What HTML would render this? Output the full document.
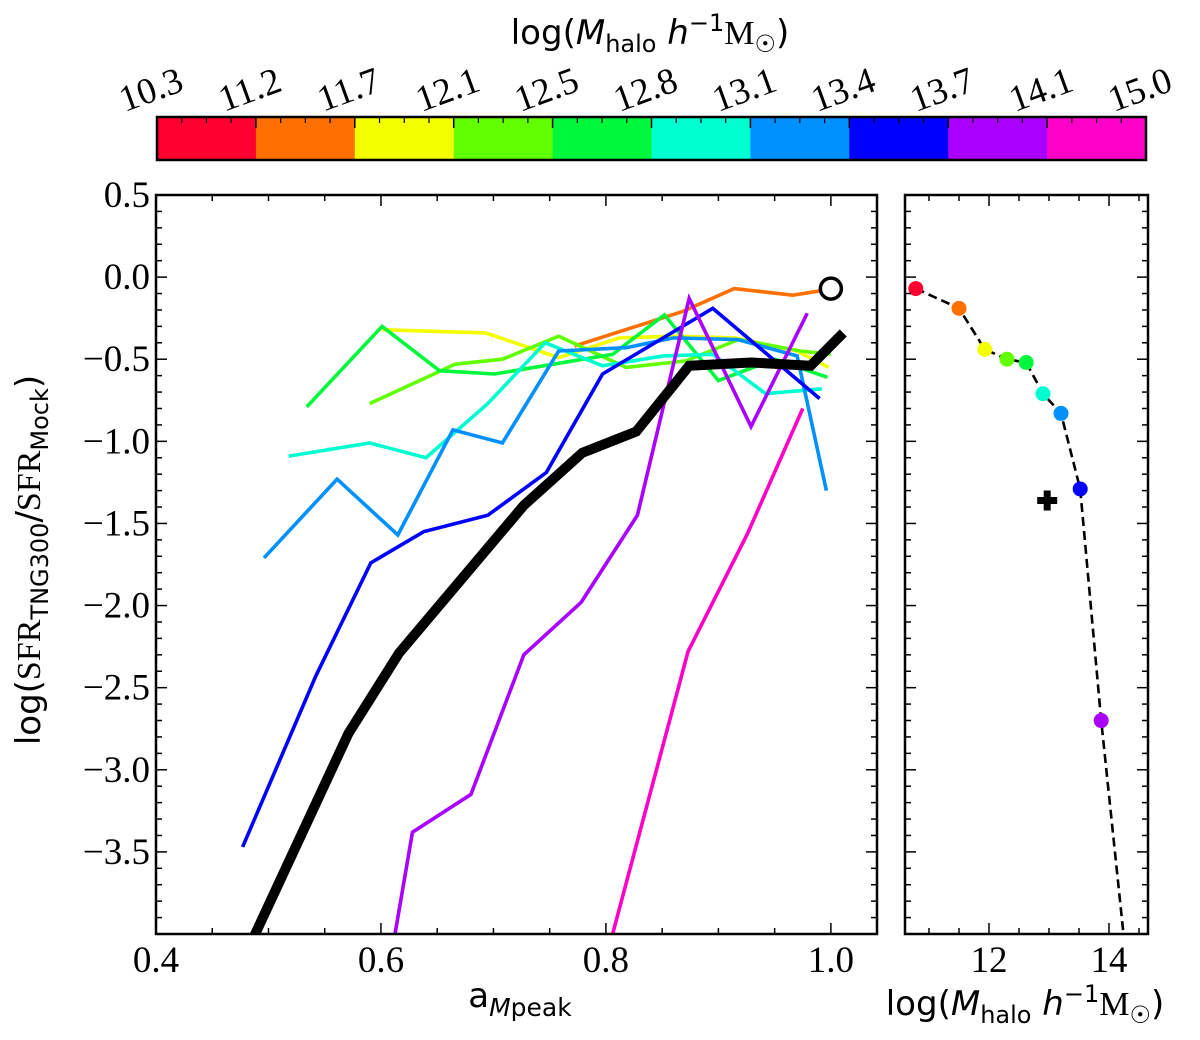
<!DOCTYPE html>
<html><head><meta charset="utf-8"><style>
html,body{margin:0;padding:0;background:#fff;}
svg text{font-family:"Liberation Serif",serif;}
.sans{font-family:"DejaVu Sans","Liberation Sans",sans-serif;}
</style></head><body>
<svg id="chart" width="1200" height="1035" viewBox="0 0 1200 1035" xmlns="http://www.w3.org/2000/svg">
<defs>
<clipPath id="clipMain"><rect x="156" y="195" width="721" height="739"/></clipPath>
<clipPath id="clipRight"><rect x="905" y="195" width="243" height="739"/></clipPath>
</defs>
<g id="colorbar"></g>
<g id="main"></g>
<g id="right"></g>
<text class="sans" x="650" y="44" font-size="34" text-anchor="middle">log(<tspan font-style="italic">M</tspan><tspan font-size="24" dy="8">halo</tspan><tspan dy="-8"> </tspan><tspan font-style="italic">h</tspan><tspan font-size="24" dy="-13">−1</tspan><tspan dy="13" font-family="Liberation Serif">M</tspan><tspan font-size="24" dy="8">☉</tspan><tspan dy="-8">)</tspan></text>
<text class="sans" x="520" y="1007" font-size="34" text-anchor="middle">a<tspan font-size="25" dy="9" font-style="italic">M</tspan><tspan font-size="25">peak</tspan></text>
<text class="sans" x="1025" y="1015" font-size="34" text-anchor="middle">log(<tspan font-style="italic">M</tspan><tspan font-size="24" dy="8">halo</tspan><tspan dy="-8"> </tspan><tspan font-style="italic">h</tspan><tspan font-size="24" dy="-13">−1</tspan><tspan dy="13" font-family="Liberation Serif">M</tspan><tspan font-size="24" dy="8">☉</tspan><tspan dy="-8">)</tspan></text>
<text class="sans" transform="translate(40,560) rotate(-90)" font-size="34" text-anchor="middle">log(<tspan font-family="Liberation Serif">SFR</tspan><tspan font-size="24" dy="8">TNG300</tspan><tspan dy="-8">/</tspan><tspan font-family="Liberation Serif">SFR</tspan><tspan font-size="24" dy="8">Mock</tspan><tspan dy="-8">)</tspan></text>
</svg>
<script>
const NS="http://www.w3.org/2000/svg";
const binLabels=["10.3","11.2","11.7","12.1","12.5","12.8","13.1","13.4","13.7","14.1","15.0"];
const binColors=["#ff0030","#ff7000","#f4ff00","#62ff00","#00f83c","#00ffd0","#0090ff","#0000ff","#aa00ff","#ff00c8"];
const yBlack=[-4.15,-2.78,-2.29,-1.39,-1.07,-0.94,-0.54,-0.52,-0.54,-0.34];
const xBlack=[0.478,0.571,0.616,0.727,0.779,0.827,0.874,0.929,0.982,1.011];
const seriesX={
 orange:[0.772,0.868,0.914,0.966,0.994],
 yellow:[0.601,0.693,0.758,0.812,0.860,0.915,0.970,0.998],
 lime:[0.590,0.666,0.708,0.758,0.818,0.871,0.918,0.973,1.0],
 green:[0.534,0.601,0.652,0.701,0.806,0.852,0.900,0.950,0.997],
 cyan:[0.518,0.590,0.640,0.695,0.746,0.797,0.851,0.895,0.942,0.992],
 lightblue:[0.496,0.561,0.615,0.664,0.708,0.758,0.818,0.860,0.917,0.970,0.996],
 blue:[0.477,0.542,0.591,0.638,0.695,0.747,0.797,0.895,0.990],
 purple:[0.610,0.628,0.680,0.727,0.778,0.828,0.874,0.929,0.979],
 pink:[0.804,0.873,0.926,0.975]
};
const seriesY={
 orange:[-0.42,-0.21,-0.07,-0.11,-0.08],
 yellow:[-0.32,-0.34,-0.49,-0.37,-0.36,-0.37,-0.45,-0.55],
 lime:[-0.77,-0.53,-0.50,-0.36,-0.55,-0.51,-0.38,-0.45,-0.47],
 green:[-0.79,-0.30,-0.57,-0.59,-0.47,-0.23,-0.63,-0.50,-0.61],
 cyan:[-1.09,-1.01,-1.10,-0.77,-0.40,-0.54,-0.48,-0.47,-0.71,-0.68],
 lightblue:[-1.71,-1.23,-1.57,-0.93,-1.01,-0.45,-0.43,-0.37,-0.38,-0.48,-1.30],
 blue:[-3.47,-2.43,-1.74,-1.55,-1.45,-1.19,-0.59,-0.19,-0.74],
 purple:[-4.1,-3.38,-3.15,-2.30,-1.98,-1.45,-0.13,-0.91,-0.22],
 pink:[-4.05,-2.28,-1.56,-0.80]
};
const seriesColor={orange:1,yellow:2,lime:3,green:4,cyan:5,lightblue:6,blue:7,purple:8,pink:9};
const circleX=[1.0], circleY=[-0.07];
const rightX=[10.78,11.5,11.93,12.3,12.62,12.9,13.2,13.52,13.87,14.45];
const rightY=[-0.07,-0.19,-0.44,-0.50,-0.52,-0.71,-0.83,-1.29,-2.70,-4.73];
const crossX=[12.97], crossY=[-1.36];
const xTicks=["0.4","0.6","0.8","1.0"];
const yTicks=["0.5","0.0","−0.5","−1.0","−1.5","−2.0","−2.5","−3.0","−3.5"];
const rTicks=["12","14"];

const L=156,R=877,T=195,B=934, X0=0.4,X1=1.041,Y0=0.5,Y1=-4.0;
const RL=905,RR=1148,RX0=10.6,RX1=14.65;
const sx=v=>L+(v-X0)/(X1-X0)*(R-L);
const sy=v=>T+(Y0-v)/(Y0-Y1)*(B-T);
const rx=v=>RL+(v-RX0)/(RX1-RX0)*(RR-RL);
function mk(tag,attrs,parent){const e=document.createElementNS(NS,tag);for(const k in attrs)e.setAttribute(k,attrs[k]);parent.appendChild(e);return e;}
const num=s=>parseFloat(s.replace("−","-"));

// colorbar
const cb=document.getElementById('colorbar');
const cL=157,cR=1146,cT=117,cB=160,w=(cR-cL)/binColors.length;
binColors.forEach((c,i)=>{
 const r=mk('rect',{x:cL+i*w,y:cT,width:w+0.5,height:cB-cT,fill:c},cb);
 
 
 for(let k=1;k<4;k++){const xx=cL+i*w+k*w/4;mk('line',{x1:xx,x2:xx,y1:cT,y2:cT+6,stroke:'#000','stroke-width':1.2},cb);}
});
binLabels.forEach((s,i)=>{
 const xx=cL+i*w;
 mk('line',{x1:xx,x2:xx,y1:cT,y2:cT+11,stroke:'#000','stroke-width':1.5},cb);
 const t=mk('text',{x:0,y:0,'font-size':37,'text-anchor':'middle',transform:`translate(${xx-2},${cT-16}) rotate(-20)`},cb);
 t.textContent=s;
 
 
});
mk('rect',{x:cL,y:cT,width:cR-cL,height:cB-cT,fill:'none',stroke:'#000','stroke-width':2.5},cb);

// main panel
const m=document.getElementById('main');
const gl=mk('g',{'clip-path':'url(#clipMain)'},m);
for(const key in seriesX){
 const pts=seriesX[key].map((v,i)=>sx(v)+','+sy(seriesY[key][i])).join(' ');
 const p=mk('polyline',{points:pts,fill:'none',stroke:binColors[seriesColor[key]],'stroke-width':3.6,'stroke-linejoin':'miter'},gl);
 
 
}
const bp=mk('polyline',{points:xBlack.map((v,i)=>sx(v)+','+sy(yBlack[i])).join(' '),fill:'none',stroke:'#000','stroke-width':10,'stroke-linejoin':'miter'},gl);


const ci=mk('circle',{cx:sx(circleX[0]),cy:sy(circleY[0]),r:10.5,fill:'#fff',stroke:'#000','stroke-width':3.5},m);


function axisBox(g,l,r){mk('rect',{x:l,y:T,width:r-l,height:B-T,fill:'none',stroke:'#000','stroke-width':2.5},g);}
function yTicksDraw(g,l,r,labels){
 for(let v=-4.0;v<=0.5001;v+=0.1){const y=sy(v);const major=Math.abs(v*2-Math.round(v*2))<1e-6;const len=major?11:6;
  mk('line',{x1:l,x2:l+len,y1:y,y2:y,stroke:'#000','stroke-width':1.5},g);mk('line',{x1:r,x2:r-len,y1:y,y2:y,stroke:'#000','stroke-width':1.5},g);}
 if(labels)yTicks.forEach(s=>{const t=mk('text',{x:l-6,y:sy(num(s))+12,'font-size':37,'text-anchor':'end'},g);t.textContent=s;
  });
}
axisBox(m,L,R);yTicksDraw(m,L,R,true);
for(let v=0.4;v<=1.041;v+=0.05){const x=sx(v);const major=Math.abs(v*5-Math.round(v*5))<1e-6;const len=major?11:6;
 mk('line',{x1:x,x2:x,y1:B,y2:B-len,stroke:'#000','stroke-width':1.5},m);mk('line',{x1:x,x2:x,y1:T,y2:T+len,stroke:'#000','stroke-width':1.5},m);}
xTicks.forEach(s=>{const t=mk('text',{x:sx(num(s)),y:B+38,'font-size':37,'text-anchor':'middle'},m);t.textContent=s;
 });

// right panel
const rp=document.getElementById('right');
const gr=mk('g',{'clip-path':'url(#clipRight)'},rp);
const dl=mk('polyline',{points:rightX.map((v,i)=>rx(v)+','+sy(rightY[i])).join(' '),fill:'none',stroke:'#000','stroke-width':2.6,'stroke-dasharray':'9,5'},gr);


rightX.forEach((v,i)=>{const c=mk('circle',{cx:rx(v),cy:sy(rightY[i]),r:7.5,fill:binColors[i]},gr);
 });
const cx=rx(crossX[0]),cy=sy(crossY[0]);
const cr=mk('path',{d:`M${cx-3.5},${cy-10}h7v6.5h6.5v7h-6.5v6.5h-7v-6.5h-6.5v-7h6.5z`,fill:'#000'},rp);


axisBox(rp,RL,RR);yTicksDraw(rp,RL,RR,false);
for(let v=11;v<=14.5;v+=0.5){const x=rx(v);const len=(v%2===0)?11:6;
 mk('line',{x1:x,x2:x,y1:B,y2:B-len,stroke:'#000','stroke-width':1.5},rp);mk('line',{x1:x,x2:x,y1:T,y2:T+len,stroke:'#000','stroke-width':1.5},rp);}
rTicks.forEach(s=>{const t=mk('text',{x:rx(num(s)),y:B+38,'font-size':37,'text-anchor':'middle'},rp);t.textContent=s;
 });
</script>
</body></html>
